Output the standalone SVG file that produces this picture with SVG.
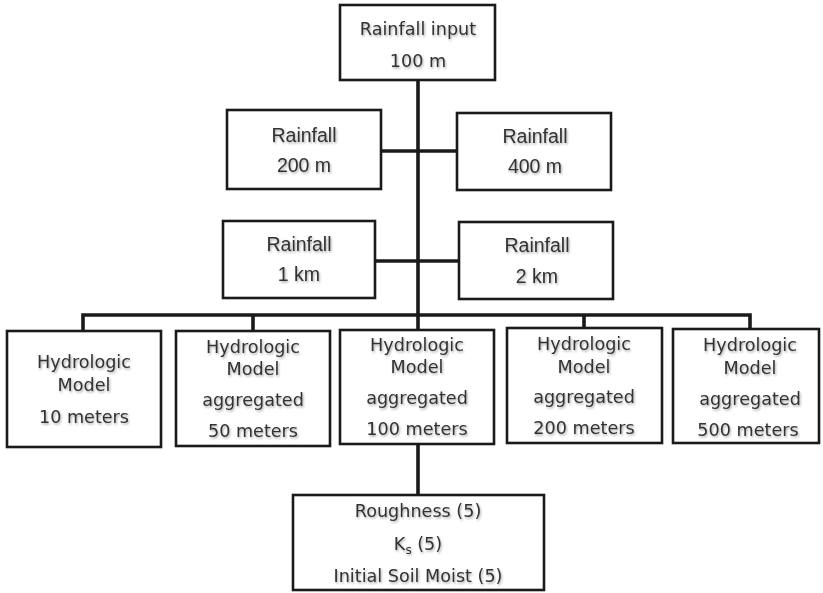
<svg xmlns="http://www.w3.org/2000/svg" width="823" height="593" viewBox="0 0 823 593">
<defs>
<filter id="sh" x="-10%" y="-30%" width="120%" height="160%">
<feDropShadow dx="1" dy="1.5" stdDeviation="1.2" flood-color="#000" flood-opacity="0.35"/>
</filter>
</defs>
<style>
.box{fill:#fff;stroke:#1a1a1a;stroke-width:2.6}
.ln{fill:none;stroke:#1a1a1a;stroke-width:3.6;stroke-linecap:square}
.a{font-family:"Liberation Sans",Arial,sans-serif;font-size:19.5px;fill:#333;text-anchor:middle;filter:url(#sh)}
.v{font-family:"DejaVu Sans",Verdana,sans-serif;font-size:17.6px;fill:#333;text-anchor:middle;filter:url(#sh)}
</style>
<rect width="823" height="593" fill="#fff"/>
<g id="connectors">
<path class="ln" d="M418,80 V330 M418,444 V495"/>
<path class="ln" d="M381,151 H457"/>
<path class="ln" d="M375,261 H459"/>
<path class="ln" d="M83,330 V315 H750 V330 M253,315 V330 M584,315 V330"/>
</g>
<g id="n_top">
<rect class="box" x="340" y="5" width="155" height="75"/>
<text class="v" x="418" y="35">Rainfall input</text>
<text class="v" x="418" y="67">100 m</text>
</g>
<g id="n_r200">
<rect class="box" x="227" y="110" width="154" height="79"/>
<text class="a" x="304" y="142">Rainfall</text>
<text class="a" x="304" y="172">200 m</text>
</g>
<g id="n_r400">
<rect class="box" x="457" y="113" width="154" height="77"/>
<text class="a" x="535" y="143">Rainfall</text>
<text class="a" x="535" y="173">400 m</text>
</g>
<g id="n_r1">
<rect class="box" x="223" y="221" width="152" height="77"/>
<text class="a" x="299" y="251">Rainfall</text>
<text class="a" x="299" y="281">1 km</text>
</g>
<g id="n_r2">
<rect class="box" x="459" y="222" width="154" height="77"/>
<text class="a" x="537" y="252">Rainfall</text>
<text class="a" x="537" y="283">2 km</text>
</g>
<g id="n_h10">
<rect class="box" x="7" y="331" width="154" height="116"/>
<text class="v" x="84" y="368">Hydrologic</text>
<text class="v" x="84" y="391">Model</text>
<text class="v" x="84" y="423">10 meters</text>
</g>
<g id="n_h50">
<rect class="box" x="176" y="331" width="154" height="115"/>
<text class="v" x="253" y="353">Hydrologic</text>
<text class="v" x="253" y="375">Model</text>
<text class="v" x="253" y="406">aggregated</text>
<text class="v" x="253" y="437">50 meters</text>
</g>
<g id="n_h100">
<rect class="box" x="340" y="330" width="154" height="114"/>
<text class="v" x="417" y="351">Hydrologic</text>
<text class="v" x="417" y="373">Model</text>
<text class="v" x="417" y="404">aggregated</text>
<text class="v" x="417" y="435">100 meters</text>
</g>
<g id="n_h200">
<rect class="box" x="507" y="328" width="155" height="115"/>
<text class="v" x="584" y="350">Hydrologic</text>
<text class="v" x="584" y="373">Model</text>
<text class="v" x="584" y="403">aggregated</text>
<text class="v" x="584" y="434">200 meters</text>
</g>
<g id="n_h500">
<rect class="box" x="673" y="329" width="146" height="114"/>
<text class="v" x="750" y="351">Hydrologic</text>
<text class="v" x="750" y="374">Model</text>
<text class="v" x="750" y="405">aggregated</text>
<text class="v" x="748" y="436">500 meters</text>
</g>
<g id="n_params">
<rect class="box" x="293" y="495" width="251" height="95"/>
<text class="v" x="418" y="517">Roughness (5)</text>
<text class="v" x="418" y="550">K<tspan font-size="12" dy="4">s</tspan><tspan dy="-4"> (5)</tspan></text>
<text class="v" x="418" y="582">Initial Soil Moist (5)</text>
</g>
</svg>
